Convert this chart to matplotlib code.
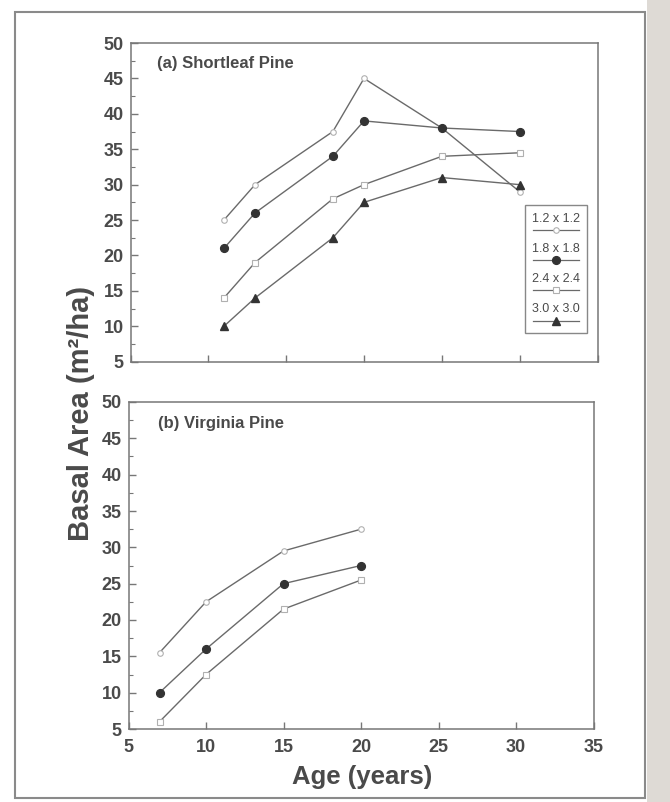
import matplotlib.pyplot as plt
from matplotlib.patches import Rectangle
from matplotlib.ticker import MultipleLocator

plt.rcParams['font.family'] = ['Liberation Sans', 'DejaVu Sans']

# (a) Shortleaf Pine
sl_age = [11, 13, 18, 20, 25, 30]
sl_12 = [25, 30, 37.5, 45, 38, 29]
sl_18 = [21, 26, 34, 39, 38, 37.5]
sl_24 = [14, 19, 28, 30, 34, 34.5]
sl_30 = [10, 14, 22.5, 27.5, 31, 30]

# (b) Virginia Pine
vp_age = [7, 10, 15, 20]
vp_12 = [15.5, 22.5, 29.5, 32.5]
vp_18 = [10, 16, 25, 27.5]
vp_24 = [6, 12.5, 21.5, 25.5]

spacings = ["1.2 x 1.2", "1.8 x 1.8", "2.4 x 2.4", "3.0 x 3.0"]

LINE = '#6a6a6a'
TEXT = '#4a4a4a'
styles = [
    dict(marker='o', ms=4, mfc='white', mec='#b0b0b0', mew=0.8),
    dict(marker='o', ms=5.6, mfc='#333333', mec='#333333'),
    dict(marker='s', ms=4, mfc='white', mec='#b0b0b0', mew=0.8),
    dict(marker='^', ms=6.2, mfc='#333333', mec='#333333'),
]


def style_axes(ax):
    ax.set_xlim(5, 35)
    ax.set_ylim(5, 50)
    ax.xaxis.set_major_locator(MultipleLocator(5))
    ax.yaxis.set_major_locator(MultipleLocator(5))
    ax.yaxis.set_minor_locator(MultipleLocator(2.5))
    ax.tick_params(which='both', direction='in', colors='#777777', labelcolor=TEXT,
                   labelsize=13)
    ax.tick_params(which='major', length=5, width=1)
    ax.tick_params(which='minor', length=3, width=0.8)
    ax.tick_params(axis='y', pad=5)
    ax.tick_params(axis='x', pad=7)
    for lab in ax.get_xticklabels() + ax.get_yticklabels():
        lab.set_fontweight('bold')
    for s in ax.spines.values():
        s.set_color('#777777')
        s.set_linewidth(1.1)


fig = plt.figure(figsize=(6.7, 8.02), dpi=100)

# scanned page frame and right edge strip
fig.patches.append(Rectangle((15 / 670, 1 - 798 / 802), 630 / 670, 786 / 802,
                             transform=fig.transFigure, fill=False,
                             ec='#8a8a8a', lw=1.5))
fig.patches.append(Rectangle((647 / 670, 0), 23 / 670, 1, transform=fig.transFigure,
                             fc='#dedad5', ec='none'))

ax1 = fig.add_axes([130.5 / 670, 1 - 361.7 / 802, 467 / 670, 318.7 / 802])
ax2 = fig.add_axes([128.5 / 670, 1 - 729 / 802, 465 / 670, 327 / 802])

for ys, st in zip([sl_12, sl_18, sl_24, sl_30], styles):
    ax1.plot(sl_age, ys, color=LINE, lw=1, **st)
for ys, st in zip([vp_12, vp_18, vp_24], styles):
    ax2.plot(vp_age, ys, color=LINE, lw=1, **st)

style_axes(ax1)
style_axes(ax2)
ax1.tick_params(axis='x', labelbottom=False)

ax1.text(0.057, 0.936, "(a) Shortleaf Pine", transform=ax1.transAxes,
         fontsize=12, fontweight='bold', color=TEXT, va='center')
ax2.text(0.064, 0.935, "(b) Virginia Pine", transform=ax2.transAxes,
         fontsize=12, fontweight='bold', color=TEXT, va='center')

# legend: label above a short line with marker
ax1.add_patch(Rectangle((0.845, 0.091), 0.133, 0.401, transform=ax1.transAxes,
                        fill=False, ec='#888888', lw=1))
for i, (lab, st) in enumerate(zip(spacings, styles)):
    ty = (361.7 - 219.3 - i * 30) / 318.7
    ly = (361.7 - 229.8 - i * 30.3) / 318.7
    ax1.text(0.9115, ty, lab, transform=ax1.transAxes, fontsize=9,
             color=TEXT, ha='center', va='center')
    ax1.plot([0.862, 0.96], [ly, ly], transform=ax1.transAxes, color=LINE, lw=0.9)
    ax1.plot([0.9115], [ly], transform=ax1.transAxes, ls='none', **st)

fig.text(0.121, 0.484, "Basal Area (m²/ha)", rotation=90,
         ha='center', va='center', fontsize=21, fontweight='bold', color=TEXT)
fig.text(0.54, 0.031, "Age (years)", ha='center', va='center', fontsize=18.5,
         fontweight='bold', color=TEXT)

fig.savefig('out.png', dpi=100)
